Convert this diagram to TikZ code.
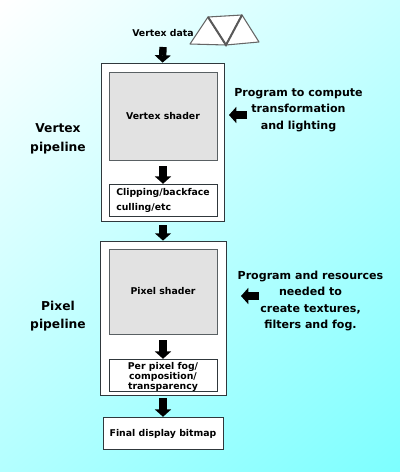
\documentclass[tikz,border=0pt]{standalone}
\usepackage{fontspec}
\setmainfont{DejaVu Sans}
\usetikzlibrary{arrows.meta}
\definecolor{boxline}{HTML}{30383C}
\definecolor{shaderfill}{HTML}{E2E2E2}
\definecolor{bgend}{HTML}{7DFFFF}
\pgfdeclareverticalshading{pagefade}{100bp}{color(0bp)=(bgend); color(15bp)=(bgend); color(85bp)=(white); color(100bp)=(white)}
\tikzset{
  panel/.style={draw=boxline,line width=0.6pt,fill=white,inner sep=0pt},
  shaderbox/.style={draw=boxline!80,line width=0.6pt,fill=shaderfill,minimum width=81pt,minimum height=66pt,inner sep=0pt,font=\bfseries\fontsize{7}{8}\selectfont},
  smallbox/.style={draw=boxline,line width=0.6pt,fill=white,minimum width=81pt,minimum height=24.5pt,inner sep=0pt,align=center,font=\bfseries\fontsize{7}{8}\selectfont},
  label/.style={align=center,inner sep=0pt,font=\bfseries\fontsize{8.3}{12.4}\selectfont},
  bigl/.style={align=center,inner sep=0pt,font=\bfseries\fontsize{9.2}{14}\selectfont},
  blockarrow/.style={line width=5.5pt,black,-{Triangle[length=5.5pt,width=12pt]}},
  tri/.style={draw=gray!80!black,line width=0.8pt,fill=white,line join=round},
  trib/.style={draw=gray!70!black,line width=1.5pt}
}
\begin{document}
\begin{tikzpicture}[x=0.75pt,y=-0.75pt]
\useasboundingbox (0,0) rectangle (400,472);
\shade[shading=pagefade,shading angle=40] (0,0) rectangle (400,472);
% triangles
\filldraw[tri] (190,44) -- (208,17) -- (226,45) -- cycle;
\filldraw[tri] (208,17) -- (242,15) -- (226,45) -- cycle;
\filldraw[tri] (226,45) -- (242,15) -- (259,42) -- cycle;
\draw[trib] (208,17) -- (226,45) -- (242,15);
% boxes
\node[panel,minimum width=92.25pt,minimum height=118.5pt] (vpanel) at (162.5,142) {};
\node[shaderbox] (vshader) at (163,116) {\raisebox{0.8pt}{Vertex shader}};
\node[smallbox,align=left] (clip) at (163,200.5) {Clipping/backface\\[3.5pt]culling/etc};
\node[panel,minimum width=94.5pt,minimum height=115.5pt] (ppanel) at (163,318) {};
\node[shaderbox,minimum height=63.75pt] (pshader) at (163,291.5) {Pixel shader};
\node[smallbox,font=\bfseries\fontsize{7}{7.6}\selectfont] (fog) at (163,375.5) {\rule{0pt}{7.5pt}Per pixel fog/\\composition/\\transparency};
\node[smallbox,minimum width=90pt] (final) at (163,433.5) {Final display bitmap};
% labels
\node[label,font=\bfseries\fontsize{7}{8}\selectfont] (vdata) at (163,33) {Vertex data};
\node[label] (vprog) at (298.5,110) {Program to compute\\transformation\\and lighting};
\node[label] (pprog) at (310.5,301) {Program and resources\\needed to\\create textures,\\filters and fog.};
\node[bigl] (vpipe) at (58,139) {Vertex\\pipeline};
\node[bigl] (ppipe) at (58,316) {Pixel\\pipeline};
% connectors
\coordinate (a0) at (163,47);
\coordinate (a1) at (163,166);
\coordinate (a3) at (163,225);
\coordinate (a4) at (163,340);
\coordinate (a5) at (163,398);
\coordinate (l1s) at (247,115);
\coordinate (l1e) at (229,115);
\coordinate (l2s) at (259,296);
\coordinate (l2e) at (241,296);
\draw[blockarrow] (a0) -- (vpanel.north);
\draw[blockarrow] (a1) -- (clip.north);
\draw[blockarrow] (a3) -- (ppanel.north);
\draw[blockarrow] (a4) -- (fog.north);
\draw[blockarrow] (a5) -- (final.north);
\draw[blockarrow] (l1s) -- (l1e);
\draw[blockarrow] (l2s) -- (l2e);
\end{tikzpicture}
\end{document}
